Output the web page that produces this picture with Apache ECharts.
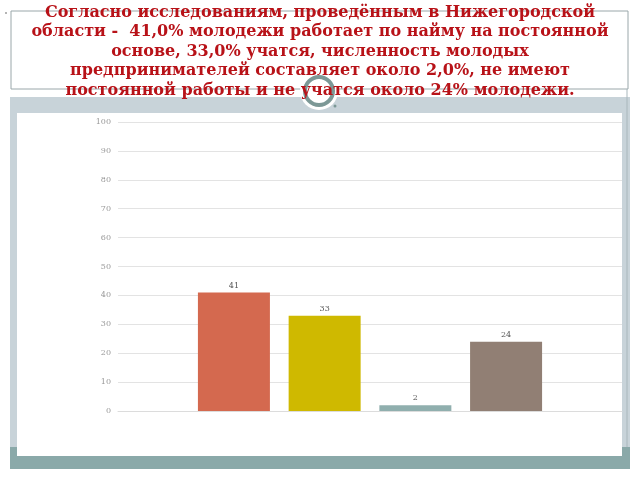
<!DOCTYPE html>
<html><head><meta charset="utf-8">
<script src="https://cdn.jsdelivr.net/npm/echarts@6/dist/echarts.min.js"></script>
<style>html,body{margin:0;padding:0;background:#fff}#c{width:640px;height:480px}</style>
</head><body><div id="c"></div>
<script>
var titleLines = [
  'Согласно исследованиям, проведённым в Нижегородской',
  'области -  41,0% молодежи работает по найму на постоянной',
  'основе, 33,0% учатся, численность молодых',
  'предпринимателей составляет около 2,0%, не имеют',
  'постоянной работы и не учатся около 24% молодежи.'
];
var categories = [''];
var seriesNames = ['Работают по найму', 'Учатся', 'Предприниматели', 'Не работают и не учатся'];
var seriesValues = [41, 33, 2, 24];
var seriesColors = ['#d4694f', '#cfb900', '#90afae', '#917f74'];
var yTicks = { min: 0, max: 100, interval: 10 };

var chart = echarts.init(document.getElementById('c'));
var series = seriesNames.map(function (n, i) {
  return {
    name: n, type: 'bar', data: [seriesValues[i]],
    barWidth: 72, barGap: '26%',
    itemStyle: { color: seriesColors[i] },
    label: { show: true, position: 'top', distance: 3, fontSize: 8, color: '#555', fontFamily: 'DejaVu Serif' }
  };
});
chart.setOption({
  animation: false,
  title: {
    text: titleLines.join('\n'), left: 'center', top: -2, z: 50,
    textStyle: { fontFamily: 'DejaVu Serif', fontWeight: 'bold', fontSize: 16, lineHeight: 19.5, color: '#b81218' }
  },
  graphic: [
    { type: 'rect', z: -20, shape: { x: 11, y: 11, width: 617, height: 78 }, style: { fill: 'none', stroke: '#9aa7aa', lineWidth: 1 } },
    { type: 'rect', z: -19, shape: { x: 10, y: 97, width: 620, height: 372 }, style: { fill: '#c8d3d9' } },
    { type: 'rect', z: -18, shape: { x: 10, y: 447, width: 620, height: 22 }, style: { fill: '#8aa9a9' } },
    { type: 'rect', z: -17, shape: { x: 17, y: 113, width: 605, height: 343 }, style: { fill: '#ffffff' } },
    { type: 'line', z: -16, shape: { x1: 627, y1: 89, x2: 627, y2: 447 }, style: { stroke: '#a9b7bc', lineWidth: 1 } },
    { type: 'circle', z: -15, shape: { cx: 319, cy: 91, r: 19 }, style: { fill: '#ffffff' } },
    { type: 'circle', z: -14, shape: { cx: 319, cy: 91, r: 14 }, style: { fill: 'none', stroke: '#7c9896', lineWidth: 4 } },
    { type: 'circle', z: -14, shape: { cx: 335, cy: 106, r: 1.5 }, style: { fill: '#7c9896' } },
    { type: 'circle', z: -14, shape: { cx: 6, cy: 13, r: 0.8 }, style: { fill: '#555' } }
  ],
  grid: { left: 118, right: 18, top: 122, bottom: 69, containLabel: false },
  xAxis: {
    type: 'category', data: categories,
    axisLine: { lineStyle: { color: '#dcdcdc' } }, axisTick: { show: false }, axisLabel: { show: false }
  },
  yAxis: {
    type: 'value', min: yTicks.min, max: yTicks.max, interval: yTicks.interval,
    axisLine: { show: false }, axisTick: { show: false },
    axisLabel: { fontSize: 8, color: '#999', fontFamily: 'DejaVu Serif', margin: 7 },
    splitLine: { lineStyle: { color: '#e3e3e3' } }
  },
  series: series
});
</script></body></html>
